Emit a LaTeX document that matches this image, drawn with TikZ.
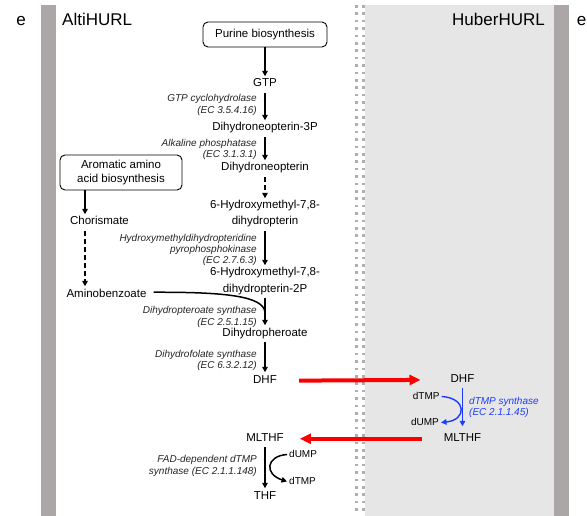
\documentclass[tikz,border=0pt]{standalone}
\usepackage{fontspec}
\setmainfont{Liberation Sans}
\usetikzlibrary{arrows.meta}
\definecolor{bargray}{RGB}{171,167,166}
\definecolor{lightbg}{RGB}{230,230,230}
\definecolor{dotgray}{RGB}{175,175,175}
\definecolor{enzblue}{RGB}{30,60,255}
\definecolor{arrred}{RGB}{250,0,0}
\begin{document}
\begin{tikzpicture}[x=1pt,y=-1pt,
 met/.style={font=\fontsize{11.5}{13}\selectfont, text height=8pt, text depth=3.5pt, inner xsep=2pt, inner ysep=2.5pt, anchor=base},
 enz/.style={font=\fontsize{10}{12}\selectfont\itshape, inner sep=0pt, anchor=base east, text=black!85},
 benz/.style={font=\fontsize{10}{12}\selectfont\itshape, inner sep=0pt, anchor=base west, text=enzblue},
 small/.style={font=\fontsize{10}{12}\selectfont, text height=7pt, text depth=2pt, inner sep=2pt},
 srcbox/.style={draw, rounded corners=5pt, line width=0.9pt, align=center, font=\fontsize{11.5}{14.5}\selectfont},
 arr/.style={line width=1.5pt, -{Triangle[length=5.5pt,width=5.5pt]}},
 darr/.style={arr, dash pattern=on 5pt off 3pt},
 redarr/.style={line width=4pt, draw=arrred, -{Triangle[length=11pt,width=10pt]}},
 bluearr/.style={line width=1.4pt, draw=enzblue, -{Triangle[length=5.5pt,width=5.5pt]}},
 title/.style={font=\fontsize{17}{20}\selectfont, inner sep=0pt}
]
\useasboundingbox (0,0) rectangle (587,516);
\fill[white] (0,0) rectangle (587,516);
\fill[lightbg] (365,5) rectangle (554,516);
\fill[bargray] (41,5) rectangle (56,516);
\fill[bargray] (554,5) rectangle (569,516);
\draw[dotgray, line width=3.3pt, dash pattern=on 2.6pt off 4.8pt] (356.6,5) -- (356.6,516);
\draw[dotgray, line width=3.3pt, dash pattern=on 2.6pt off 4.8pt] (363.6,5) -- (363.6,516);

% titles
\node[title, anchor=base] (eL) at (21,26) {e};
\node[title, anchor=base west] (alti) at (62,26) {AltiHURL};
\node[title, anchor=base east] (huber) at (545,26) {HuberHURL};
\node[title, anchor=base] (eR) at (581.5,26) {e};

% source boxes
\node[srcbox, text height=8pt, text depth=2.5pt, minimum width=124pt, minimum height=25pt] (purine) at (265,34.5) {Purine biosynthesis};
\node[srcbox, minimum width=122pt, minimum height=35pt] (arom) at (121,172.5) {Aromatic amino\\acid biosynthesis};

% metabolites
\node[met] (gtp)  at (265,87)  {GTP};
\node[met] (dnp3) at (265,131) {Dihydroneopterin-3P};
\node[met] (dnp)  at (265,171) {Dihydroneopterin};
\node[met] (hma)  at (265,209) {6-Hydroxymethyl-7,8-};
\node[met] (hmb)  at (265,225) {dihydropterin};
\node[met] (hpa)  at (265,276) {6-Hydroxymethyl-7,8-};
\node[met] (hpb)  at (265,292) {dihydropterin-2P};
\node[met] (dph)  at (265,336) {Dihydropheroate};
\node[met] (dhfL) at (265,383) {DHF};
\node[met] (mlL)  at (265,441) {MLTHF};
\node[met] (thf)  at (265,499) {THF};
\node[met] (dhfR) at (462.5,382) {DHF};
\node[met] (mlR)  at (462.5,441) {MLTHF};
\node[met] (chor) at (99.5,225) {Chorismate};
\node[met] (ab)   at (106.5,297) {Aminobenzoate};

\node[small, anchor=base west] (dumpL) at (287,457) {dUMP};
\node[small, anchor=base west] (dtmpL) at (287,484) {dTMP};
\node[small, anchor=base east] (dtmpR) at (441.7,399) {dTMP};
\node[small, anchor=base east] (dumpR) at (441,425) {dUMP};

% enzyme labels
\node[enz] (e1a) at (257,102) {GTP cyclohydrolase};
\node[enz] (e1b) at (257,114) {(EC 3.5.4.16)};
\node[enz] (e2a) at (257,147) {Alkaline phosphatase};
\node[enz] (e2b) at (257,158) {(EC 3.1.3.1)};
\node[enz] (e3a) at (257,241) {Hydroxymethyldihydropteridine};
\node[enz] (e3b) at (257,253) {pyrophosphokinase};
\node[enz] (e3c) at (257,264) {(EC 2.7.6.3)};
\node[enz] (e4a) at (257,313) {Dihydropteroate synthase};
\node[enz] (e4b) at (257,325) {(EC 2.5.1.15)};
\node[enz] (e5a) at (257,357) {Dihydrofolate synthase};
\node[enz] (e5b) at (257,368) {(EC 6.3.2.12)};
\node[enz] (e6a) at (257,462) {FAD-dependent dTMP};
\node[enz] (e6b) at (257,474) {synthase (EC 2.1.1.148)};
\node[benz] (b1a) at (469,404) {dTMP synthase};
\node[benz] (b1b) at (469,415) {(EC 2.1.1.45)};

% connectors
\draw[arr] (gtp.north |- purine.south) -- (gtp.north);
\draw[arr] (gtp.south) -- (dnp3.north);
\draw[arr] (dnp3.south) -- (dnp.north);
\draw[darr] (dnp.south) -- (hma.north);
\draw[arr] (hmb.south) -- (hpa.north);
\draw[arr] (hpb.south) -- (dph.north);
\draw[arr] (dph.south) -- (dhfL.north);
\draw[arr] (mlL.south) -- (thf.north);

\coordinate (merge) at (265,312);
\draw[line width=1.5pt] ([shift={(5pt,2.5pt)}]ab.east) .. controls (225,292) and (263,296) .. (merge);

\draw[arr] ([xshift=-36pt]arom.south) -- ([xshift=-14.5pt]chor.north);
\draw[darr] ([xshift=-14.5pt]chor.south) -- ([xshift=-21.5pt]ab.north);

\draw[arr] (dumpL.west) .. controls (266,456) and (264,474) .. (dtmpL.west);

\draw[redarr, shorten <=20pt, shorten >=28pt] (dhfL.east) -- (dhfR.west);
\draw[redarr, shorten <=20pt, shorten >=14pt] (mlR.west) -- (mlL.east);

\draw[bluearr, shorten >=4pt] (dhfR.south) -- (mlR.north);
\draw[bluearr] (dtmpR.east) .. controls (467,398) and (467,420) .. (dumpR.east);
\end{tikzpicture}
\end{document}
